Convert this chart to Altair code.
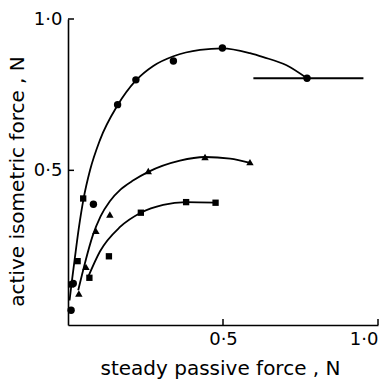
import altair as alt
import pandas as pd

# ---- data (x = steady passive force N, y = active isometric force N)
circ_x = [0.010, 0.017, 0.082, 0.160, 0.219, 0.340, 0.498, 0.771]
circ_y = [0.038, 0.126, 0.388, 0.717, 0.799, 0.861, 0.904, 0.804]
circ_err_lo = [0.598]
circ_err_hi = [0.953]
circ_err_y = [0.804]

tri_x = [0.035, 0.058, 0.090, 0.135, 0.259, 0.442, 0.587]
tri_y = [0.093, 0.181, 0.300, 0.354, 0.498, 0.544, 0.527]

sq_x = [0.010, 0.031, 0.049, 0.069, 0.132, 0.235, 0.381, 0.476]
sq_y = [0.123, 0.200, 0.407, 0.145, 0.216, 0.360, 0.395, 0.393]

# hand-drawn fitted curves
circ_curve_x = [0.005, 0.012, 0.022, 0.035, 0.050, 0.071, 0.103, 0.160, 0.219, 0.275,
                0.340, 0.426, 0.498, 0.587, 0.630, 0.705, 0.771]
circ_curve_y = [0.070, 0.130, 0.210, 0.310, 0.405, 0.500, 0.600, 0.715, 0.797, 0.845,
                0.877, 0.898, 0.903, 0.887, 0.874, 0.847, 0.804]
tri_curve_x = [0.033, 0.055, 0.080, 0.105, 0.135, 0.170, 0.211, 0.259, 0.361, 0.442, 0.523, 0.587]
tri_curve_y = [0.104, 0.195, 0.285, 0.348, 0.398, 0.437, 0.467, 0.495, 0.532, 0.544, 0.539, 0.525]
sq_curve_x = [0.065, 0.103, 0.168, 0.235, 0.307, 0.381, 0.476]
sq_curve_y = [0.148, 0.232, 0.313, 0.360, 0.386, 0.395, 0.393]

tick_values = [0.5, 1.0]

# ---- tables
curves = pd.concat([
    pd.DataFrame({"x": circ_curve_x, "y": circ_curve_y, "s": "circle"}),
    pd.DataFrame({"x": tri_curve_x, "y": tri_curve_y, "s": "triangle"}),
    pd.DataFrame({"x": sq_curve_x, "y": sq_curve_y, "s": "square"}),
], ignore_index=True)
curves["i"] = range(len(curves))

circ_df = pd.DataFrame({"x": circ_x, "y": circ_y})
tri_df = pd.DataFrame({"x": tri_x, "y": tri_y})
sq_df = pd.DataFrame({"x": sq_x, "y": sq_y})
err_df = pd.DataFrame({"lo": circ_err_lo, "hi": circ_err_hi, "y": circ_err_y})
ticks_df = pd.DataFrame({"v": tick_values})

W, H = 310, 306
FONT = "DejaVu Sans"
label_expr = "replace(format(datum.value, '.1f'), '.', '·')"

xs = alt.Scale(domain=[0, 1.0], nice=False, zero=False)
ys = alt.Scale(domain=[-0.011, 1.0], nice=False, zero=False)

x_axis = alt.Axis(values=tick_values, ticks=False, grid=False, labelExpr=label_expr,
                  title="steady passive force , N", domainColor="black", domainWidth=1.6,
                  labelFont=FONT, labelFontSize=18, labelColor="black", labelPadding=5,
                  titleFont=FONT, titleFontSize=20, titleFontWeight="normal", titleColor="black",
                  titleBaseline="alphabetic", titleY=49, titleX=152)
y_axis = alt.Axis(values=tick_values, ticks=False, grid=False, labelExpr=label_expr,
                  title="active isometric force , N", domainColor="black", domainWidth=1.6,
                  labelFont=FONT, labelFontSize=18, labelColor="black", labelPadding=6,
                  titleFont=FONT, titleFontSize=20, titleFontWeight="normal", titleColor="black",
                  titleBaseline="alphabetic", titleX=-45, titleY=162, titleAngle=-90)

base_axes = alt.Chart(ticks_df).mark_point(opacity=0).encode(
    x=alt.X("v:Q", scale=xs, axis=x_axis),
    y=alt.Y("v:Q", scale=ys, axis=y_axis),
)

lines = alt.Chart(curves).mark_line(color="black", strokeWidth=1.8, interpolate="monotone").encode(
    x=alt.X("x:Q", scale=xs), y=alt.Y("y:Q", scale=ys), detail="s:N", order="i:Q")

err = alt.Chart(err_df).mark_rule(color="black", strokeWidth=2).encode(
    x=alt.X("lo:Q", scale=xs), x2="hi:Q", y=alt.Y("y:Q", scale=ys))

pts_c = alt.Chart(circ_df).mark_point(shape="circle", filled=True, color="black", size=55, opacity=1).encode(
    x=alt.X("x:Q", scale=xs), y=alt.Y("y:Q", scale=ys))
pts_t = alt.Chart(tri_df).mark_point(shape="triangle-up", filled=True, color="black", size=55, opacity=1).encode(
    x=alt.X("x:Q", scale=xs), y=alt.Y("y:Q", scale=ys))
pts_s = alt.Chart(sq_df).mark_point(shape="square", filled=True, color="black", size=40, opacity=1).encode(
    x=alt.X("x:Q", scale=xs), y=alt.Y("y:Q", scale=ys))

ytick = alt.Chart(ticks_df).mark_rule(color="black", strokeWidth=1.5).encode(
    y=alt.Y("v:Q", scale=ys), x=alt.value(0), x2=alt.value(6))
xtick = alt.Chart(ticks_df).mark_rule(color="black", strokeWidth=1.5).encode(
    x=alt.X("v:Q", scale=xs), y=alt.value(H), y2=alt.value(H - 6))

chart = alt.layer(base_axes, lines, err, pts_c, pts_t, pts_s, ytick, xtick).properties(
    width=W, height=H,
    autosize=alt.AutoSizeParams(type="none"),
    padding={"left": 68, "top": 19, "right": 13, "bottom": 54},
    background="white",
).configure_view(stroke=None)

chart.save("out.html", embed_options={"renderer": "svg", "actions": False})
